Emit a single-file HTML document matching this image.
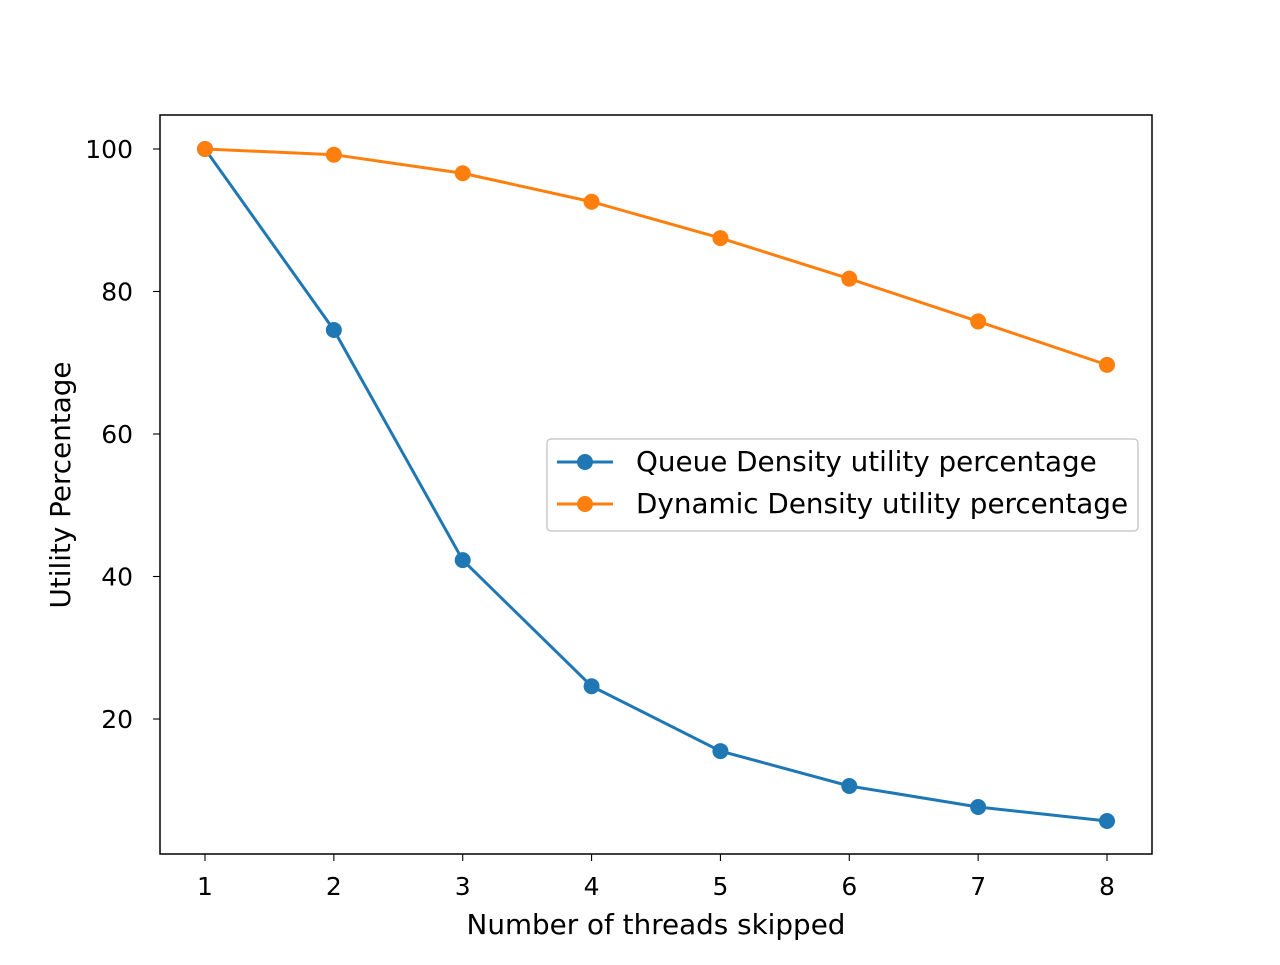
<!DOCTYPE html>
<html><head><meta charset="utf-8"><style>
body{margin:0;background:#fff;}
svg text{font-family:"DejaVu Sans","Liberation Sans",sans-serif;fill:#000;}
</style></head><body>
<svg id="chart" width="1280" height="960" xmlns="http://www.w3.org/2000/svg">
<rect width="1280" height="960" fill="#fff"/>
<g id="plot"></g>
</svg>
<script>
const categories=[1,2,3,4,5,6,7,8];
const queueValues=[100,74.6,42.3,24.6,15.5,10.6,7.65,5.68];
const dynamicValues=[100,99.2,96.6,92.6,87.5,81.8,75.8,69.7];
const yTicks=[20,40,60,80,100];
const seriesNames=["Queue Density utility percentage","Dynamic Density utility percentage"];

const NS="http://www.w3.org/2000/svg";
const g=document.getElementById('plot');
const L=160,R=1152,T=115,B=854;
function xs(v){return 205+(v-1)*(1107-205)/7;}
function ys(v){return 861.5-v*7.125;}
function mk(tag,attrs,parent){const e=document.createElementNS(NS,tag);for(const k in attrs)e.setAttribute(k,attrs[k]);(parent||g).appendChild(e);return e;}

categories.forEach(c=>{
  const t=mk('line',{x1:xs(c),x2:xs(c),y1:B,y2:B+7,stroke:'#000','stroke-width':1.1});
  
  
  const l=mk('text',{x:xs(c),y:B+41,'text-anchor':'middle','font-size':25});
  l.textContent=c;
  
  
});
yTicks.forEach(v=>{
  const t=mk('line',{x1:L-7,x2:L,y1:ys(v),y2:ys(v),stroke:'#000','stroke-width':1.1});
  
  
  const l=mk('text',{x:L-27,y:ys(v)+9,'text-anchor':'end','font-size':25});
  l.textContent=v;
  
  
});

function series(vals,color,name){
  const p=mk('polyline',{points:vals.map((v,i)=>xs(categories[i])+','+ys(v)).join(' '),fill:'none',stroke:color,'stroke-width':3});
  
  
  vals.forEach((v,i)=>{
    const c=mk('circle',{cx:xs(categories[i]),cy:ys(v),r:8,fill:color});
    
    
  });
}
series(queueValues,'#1f77b4','queue-density');
series(dynamicValues,'#ff7f0e','dynamic-density');

const frame=mk('rect',{x:L,y:T,width:R-L,height:B-T,fill:'none',stroke:'#000','stroke-width':1.5});



const xt=mk('text',{x:656,y:934,'text-anchor':'middle','font-size':27.8});
xt.textContent='Number of threads skipped';


const yt=mk('text',{x:0,y:0,'text-anchor':'middle','font-size':27.8,transform:'translate(70,485) rotate(-90)'});
yt.textContent='Utility Percentage';



const lg=mk('g',{});


mk('rect',{x:547,y:439,width:591,height:92,rx:4,fill:'#fff','fill-opacity':0.8,stroke:'#ccc','stroke-width':1.5},lg);
[['#1f77b4',462],['#ff7f0e',504]].forEach((s,i)=>{
  const e=mk('g',{},lg);
  
  
  mk('line',{x1:557,x2:613,y1:s[1],y2:s[1],stroke:s[0],'stroke-width':3},e);
  mk('circle',{cx:585,cy:s[1],r:8,fill:s[0]},e);
  const t=mk('text',{x:636,y:s[1]+9,'font-size':27.8},e);
  t.textContent=seriesNames[i];
});
</script>
</body></html>
